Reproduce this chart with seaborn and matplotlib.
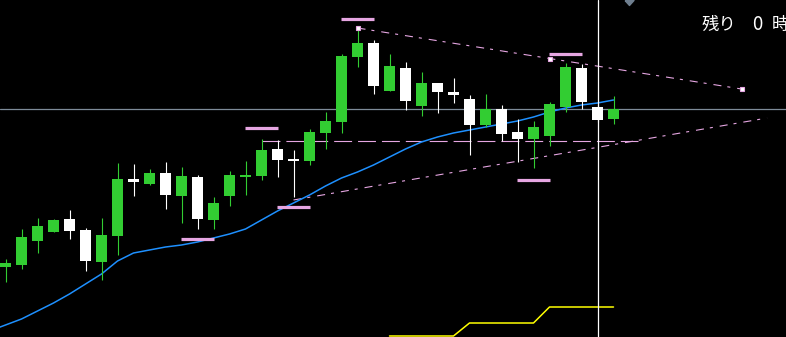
import numpy as np
import pandas as pd
import matplotlib
matplotlib.use("Agg")
import matplotlib.pyplot as plt
import seaborn as sns

# ---------------- data ----------------
opens = [150.70, 150.72, 150.96, 151.05, 151.18, 151.07, 150.75, 151.01, 151.58, 151.53,
         151.64, 151.41, 151.60, 151.17, 151.41, 151.60, 151.61, 151.88, 151.78, 151.76,
         152.04, 152.15, 152.80, 152.94, 152.46, 152.69, 152.31, 152.54, 152.45, 152.38,
         152.12, 152.28, 152.05, 151.98, 152.01, 152.30, 152.69, 152.30, 152.18]
highs = [150.78, 151.08, 151.19, 151.18, 151.27, 151.09, 151.19, 151.74, 151.73, 151.68,
         151.75, 151.70, 151.62, 151.40, 151.66, 151.76, 151.98, 151.97, 151.87, 152.08,
         152.25, 152.83, 153.09, 152.97, 152.83, 152.75, 152.65, 152.54, 152.59, 152.42,
         152.43, 152.32, 152.18, 152.16, 152.35, 152.74, 152.73, 152.32, 152.41]
lows = [150.55, 150.68, 150.84, 151.05, 150.98, 150.66, 150.57, 150.82, 151.41, 151.52,
        151.28, 151.14, 151.08, 151.08, 151.31, 151.42, 151.57, 151.60, 151.40, 151.72,
        151.88, 152.04, 152.70, 152.43, 152.46, 152.27, 152.21, 152.24, 152.34, 151.82,
        152.10, 151.96, 151.75, 151.69, 151.91, 152.25, 152.28, 152.15, 152.13]
closes = [150.74, 151.00, 151.11, 151.17, 151.06, 150.76, 151.02, 151.58, 151.55, 151.64,
          151.42, 151.61, 151.18, 151.34, 151.62, 151.62, 151.87, 151.77, 151.76, 152.05,
          152.16, 152.81, 152.94, 152.51, 152.71, 152.36, 152.54, 152.45, 152.42, 152.12,
          152.28, 152.03, 151.98, 152.10, 152.33, 152.70, 152.35, 152.17, 152.28]

ma_index = list(range(-1, 39))
ma_values = [150.06, 150.12, 150.18, 150.26, 150.34, 150.43, 150.53, 150.63, 150.76, 150.84,
             150.87, 150.90, 150.92, 150.95, 150.99, 151.03, 151.08, 151.17, 151.26, 151.34,
             151.42, 151.51, 151.59, 151.65, 151.72, 151.80, 151.88, 151.95, 152.00, 152.04,
             152.07, 152.10, 152.13, 152.16, 152.20, 152.25, 152.29, 152.32, 152.34, 152.37]

sub_index = list(range(24, 39))
sub_values = [150.01, 150.01, 150.01, 150.01, 150.01,
              150.14, 150.14, 150.14, 150.14, 150.14,
              150.30, 150.30, 150.30, 150.30, 150.30]

fractal_high_idx = [16, 22, 35]
fractal_high_val = [152.09, 153.18, 152.83]
fractal_low_idx = [12, 18, 33]
fractal_low_val = [150.98, 151.30, 151.57]

upper_trend_idx = [22, 34, 46]
upper_trend_val = [153.09, 152.785, 152.48]
lower_trend_idx = [18, 47.6]
lower_trend_val = [151.37, 152.19]

support_level = 151.96
support_span = [16, 39.5]
current_price = 152.28
cursor_index = 37

label_left = "残り"
label_mid = "0"
label_right = "時"

# ---------------- style ----------------
sns.set_theme(style="dark")
plt.rcParams["font.family"] = ["Noto Sans CJK JP", "DejaVu Sans"]
plt.rcParams["lines.scale_dashes"] = False

GREEN = "#32cd32"
WHITE = "#ffffff"
BLUE = "#1e90ff"
PINK = "#e6a6e2"
GRAY = "#7d8b99"
YELLOW = "#ffff00"

fig = plt.figure(figsize=(7.86, 3.37), dpi=100, facecolor="black")
ax = fig.add_axes([0, 0, 1, 1])
ax.set_facecolor("black")
ax.set_axis_off()

df = pd.DataFrame({"open": opens, "high": highs, "low": lows, "close": closes})
df["idx"] = np.arange(len(df))
df["up"] = df["close"] >= df["open"]
colors = np.where(df["up"], GREEN, WHITE)

# current price line
ax.axhline(current_price, color=GRAY, lw=0.9, zorder=1)

# horizontal support (dashed)
ax.hlines(support_level, support_span[0], support_span[1], colors=PINK, lw=0.8,
          linestyles=[(0, (12.9, 4.3))], zorder=1)

# trend lines
dash_trend = (0, (5.8, 4.3, 2.2, 5.0))
ax.plot(upper_trend_idx, upper_trend_val, color=PINK, lw=0.8, linestyle=dash_trend, zorder=2)
ax.plot(lower_trend_idx, lower_trend_val, color=PINK, lw=0.8, linestyle=dash_trend, zorder=2)

# moving average
sns.lineplot(x=ma_index, y=ma_values, ax=ax, color=BLUE, lw=1.1, estimator=None,
             sort=False, zorder=3)

# sub-indicator step line
sns.lineplot(x=sub_index, y=sub_values, ax=ax, color=YELLOW, lw=1.1, estimator=None,
             sort=False, zorder=3)

# candles
ax.vlines(df["idx"], df["low"], df["high"], colors=colors, lw=0.8, zorder=4)
body_bottom = np.minimum(df["open"], df["close"])
body_height = np.maximum(np.abs(df["close"] - df["open"]), 0.02)
ax.bar(df["idx"], body_height, bottom=body_bottom, width=0.69, color=colors,
       linewidth=0, zorder=5)

# fractal markers
ax.hlines(fractal_high_val, np.array(fractal_high_idx) - 1.03, np.array(fractal_high_idx) + 1.03,
          colors=PINK, lw=2.3, zorder=6)
ax.hlines(fractal_low_val, np.array(fractal_low_idx) - 1.03, np.array(fractal_low_idx) + 1.03,
          colors=PINK, lw=2.3, zorder=6)

# trend line anchor markers
ax.plot(upper_trend_idx, upper_trend_val, linestyle="none", marker="s", ms=3.2,
        mfc="white", mec=PINK, mew=0.8, zorder=7)

# cursor line
ax.axvline(cursor_index, color="white", lw=0.9, zorder=8)

# top triangle
tri = [(-4.5, 0), (4.5, 0), (0, -5), (-4.5, 0)]
ax.plot([38.97], [153.37], linestyle="none", marker=tri, ms=7.2, color="#6f7f8f",
        clip_on=True, zorder=8)

ax.set_xlim(-5.5 / 16, 780.5 / 16)
ax.set_ylim(150.00, 153.37)

# text
ty = 1 - 25 / 337
fig.text(702 / 786, ty, label_left, color="white", fontsize=12.5, va="center", ha="left")
fig.text(752 / 786, ty, label_mid, color="white", fontsize=13.5, va="center", ha="left")
fig.text(772 / 786, ty, label_right, color="white", fontsize=12.5, va="center", ha="left")

fig.savefig("out.png", dpi=100, facecolor="black")
